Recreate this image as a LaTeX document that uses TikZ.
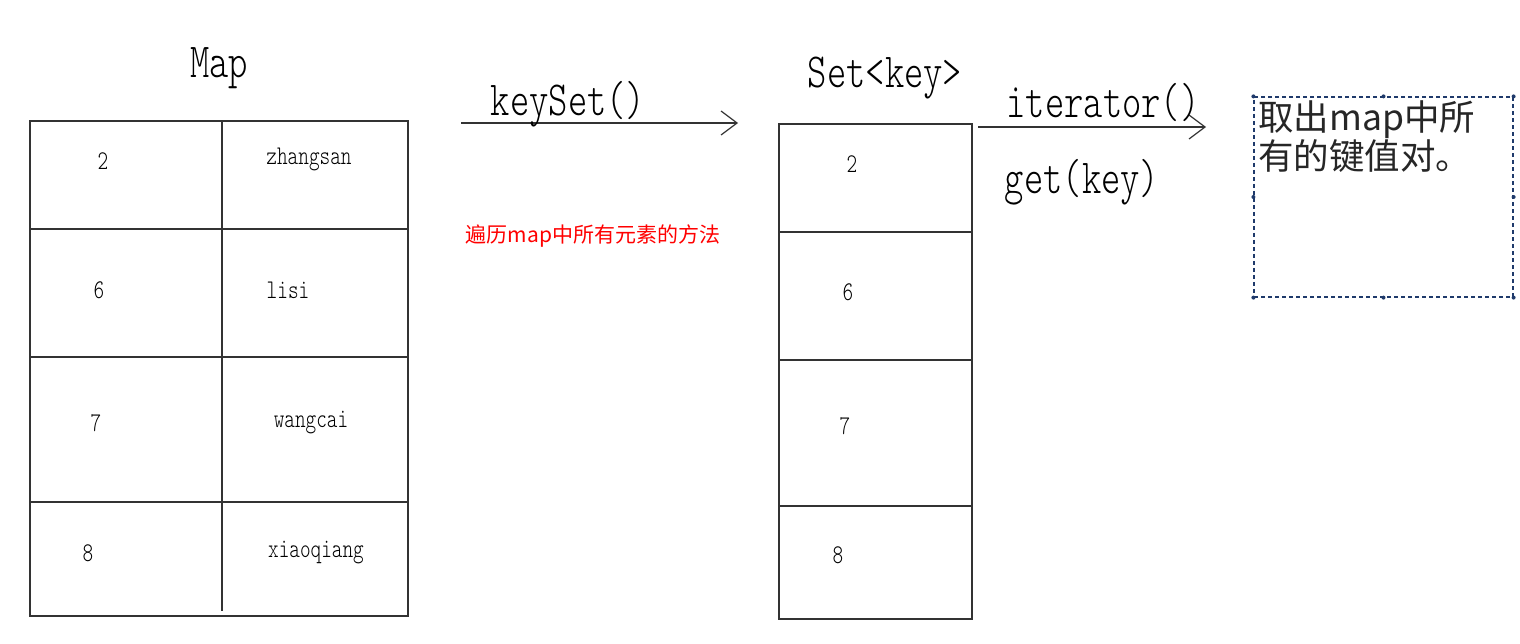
\documentclass[tikz,border=0pt]{standalone}
\usepackage{fontspec}
\newfontfamily\monof{lmmonolt10-regular.otf}[FakeStretch=0.75]
\newfontfamily\cjkf{Noto Sans CJK SC}
\usetikzlibrary{arrows.meta}
\definecolor{tblline}{HTML}{333333}
\definecolor{selnavy}{HTML}{1F3A6B}
\begin{document}
\begin{tikzpicture}[x=1pt,y=-1pt,
  tbl/.style={draw=tblline,line width=1.3pt,inner sep=0pt,minimum width=#1},
  cell/.style={font=\monof\fontsize{27}{30}\selectfont,inner sep=0pt},
  big/.style={font=\monof\fontsize{49}{52}\selectfont,inner sep=0pt},
  note/.style={font=\cjkf\fontsize{21}{24}\selectfont,text=red,inner sep=0pt},
  boxtext/.style={font=\cjkf\fontsize{35.5}{37}\selectfont,align=left,inner sep=0pt,text=black!85},
  flow/.style={draw=tblline,line width=1.3pt,-{Straight Barb[length=16pt,width=24pt,line width=1.2pt]}},
  handle/.style={fill=selnavy,circle,inner sep=0pt,minimum size=4pt}
]
\useasboundingbox (0,0) rectangle (1520,644);
\fill[white] (0,0) rectangle (1520,644);

% ---- Map table ----
\node[tbl=378pt,minimum height=495pt] (map) at (219,368.5) {};
\draw[draw=tblline,line width=1.3pt] (30,229) -- (408,229) (30,357) -- (408,357) (30,502) -- (408,502);
\draw[draw=tblline,line width=1.3pt] (222,121) -- (222,611);
\node[big] (maplabel) at (219,68) {Map};
\node[cell] (k2) at (103,161) {2};
\node[cell] (v2) at (309,159) {zhangsan};
\node[cell] (k6) at (99,290) {6};
\node[cell] (v6) at (288,290) {lisi};
\node[cell] (k7) at (96,423) {7};
\node[cell] (v7) at (311,423) {wangcai};
\node[cell] (k8) at (88,553) {8};
\node[cell] (v8) at (316,553) {xiaoqiang};

% ---- keySet arrow ----
\coordinate (ks1) at (461,123);
\coordinate (ks2) at (738,123);
\draw[flow] (ks1) -- (ks2);
\node[big] (kslabel) at (568,104) {keySet()};
\node[note] (redn) at (593,236) {遍历map中所有元素的方法};

% ---- Set table ----
\node[tbl=193pt,minimum height=495pt] (set) at (875.5,371.5) {};
\draw[draw=tblline,line width=1.3pt] (779,232) -- (972,232) (779,360) -- (972,360) (779,506) -- (972,506);
\node[big] (setlabel) at (885,78) {Set<key>};
\node[cell] (s2) at (852,164) {2};
\node[cell] (s6) at (848,292) {6};
\node[cell] (s7) at (845,426) {7};
\node[cell] (s8) at (838,555) {8};

% ---- iterator arrow ----
\coordinate (it1) at (978,127);
\coordinate (it2) at (1206,127);
\draw[flow] (it1) -- (it2);
\node[big] (itlabel) at (1103,103) {iterator()};
\node[big] (getlabel) at (1082,182) {get(key)};

% ---- selected text box ----
\node[draw=selnavy,line width=1.2pt,dash pattern=on 4pt off 3pt,minimum width=259pt,minimum height=200pt,inner sep=0pt] (selbox) at (1383.5,197) {};
\node[boxtext,anchor=north west] (boxtxt) at (1258,100) {取出map中所\\有的键值对。};
\foreach \p/\n in {north west/a,north/b,north east/c,west/d,east/e,south west/f,south/g,south east/h}
  \node[handle] (h\n) at (selbox.\p) {};
\end{tikzpicture}
\end{document}
